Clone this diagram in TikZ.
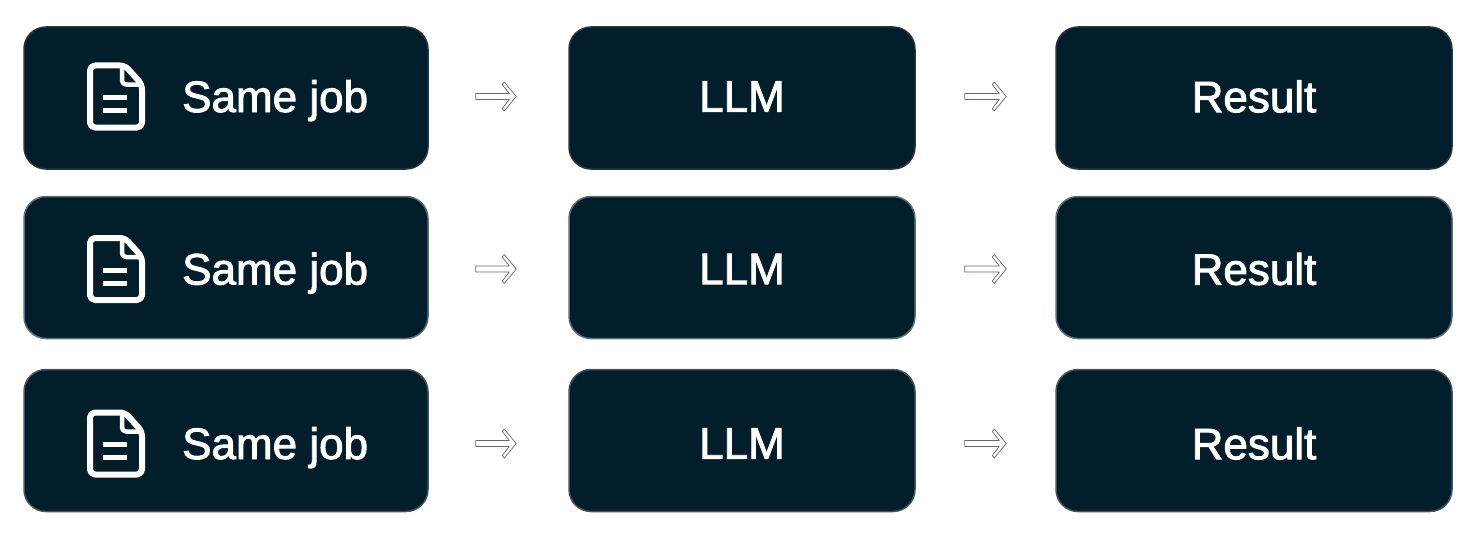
\documentclass[tikz,border=0pt]{standalone}
\usepackage{fontspec}
\setmainfont[FakeBold=2]{Liberation Sans}
\usetikzlibrary{calc}
\definecolor{boxfill}{HTML}{021E2A}
\definecolor{edgeone}{HTML}{2C3339}
\definecolor{edgetwo}{HTML}{5B6E7A}
\definecolor{edgethree}{HTML}{46545E}
\definecolor{arrowedge}{HTML}{5F6B78}
\newcommand{\flowarrow}[2]{\draw[flow] #1 ++(0,-3) -- ($#2+(-7,-3)$) -- ($#2+(-14,-12)$) -- ($#2+(-12,-14.5)$) -- #2 -- ($#2+(-12,14.5)$) -- ($#2+(-14,12)$) -- ($#2+(-7,3)$) -- ($#1+(0,3)$) -- cycle;}
\tikzset{
darkbox/.style={rectangle,rounded corners=22pt,line width=1.5pt,fill=boxfill,minimum height=142pt,inner sep=0pt},
boxlabel/.style={inner sep=0pt,text=white,font=\fontsize{44}{50}\selectfont},
flow/.style={draw=arrowedge,line width=0.7pt,line join=round,fill=white},
doc icon/.pic={
\draw[white,line width=6pt,line join=round,rounded corners=5pt] (-26,-31) -- (9,-31) -- (26,-12) -- (26,31) -- (-26,31) -- cycle;
\draw[white,line width=4.5pt,line join=round,rounded corners=4pt] (6,-31) -- (6,-12) -- (26,-12);
\draw[white,line width=5pt] (-13,1) -- (11,1) (-13,14) -- (11,14);
}
}
\begin{document}
\begin{tikzpicture}[x=1pt,y=-1pt]
\useasboundingbox (0,0) rectangle (1472,535);
\foreach \i/\y/\off/\edge in {1/98/-1.5/edgeone,2/267.5/1.5/edgetwo,3/440.5/3/edgethree}{
\node[darkbox,draw=\edge,minimum width=404pt] (job\i) at (226,\y) {};
\node[darkbox,draw=\edge,minimum width=346pt] (llm\i) at (742,\y) {};
\node[darkbox,draw=\edge,minimum width=396pt] (result\i) at (1254,\y) {};
\node[boxlabel] (llmlabel\i) at ([yshift=-\off pt]llm\i.center) {LLM};
\node[boxlabel] (resultlabel\i) at ([yshift=-\off pt]result\i.center) {Result};
\node[boxlabel,anchor=base west] (jobtext\i) at (182,\y+\off+15.5) {Same job};
\pic at (116,\y+\off) {doc icon};
\coordinate (jobout\i) at ([xshift=47pt,yshift=-\off pt]job\i.east);
\coordinate (llmin\i) at ([xshift=-52pt,yshift=-\off pt]llm\i.west);
\coordinate (llmout\i) at ([xshift=49pt,yshift=-\off pt]llm\i.east);
\coordinate (resultin\i) at ([xshift=-49pt,yshift=-\off pt]result\i.west);
\flowarrow{(jobout\i)}{(llmin\i)}
\flowarrow{(llmout\i)}{(resultin\i)}
}
\end{tikzpicture}
\end{document}
